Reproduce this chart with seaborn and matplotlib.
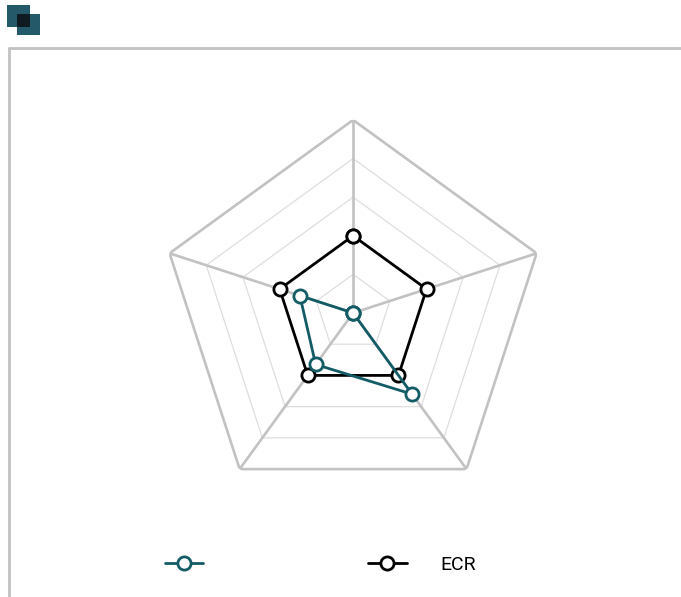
import numpy as np
import pandas as pd
import matplotlib
matplotlib.use("Agg")
import matplotlib.pyplot as plt
import seaborn as sns
from matplotlib.lines import Line2D
from matplotlib.patches import Rectangle

# radar data (5 axes, clockwise from top)
axes_names = ["A1", "A2", "A3", "A4", "A5"]
series_names = ["", "ECR"]
teal_values = [0.0, 0.0, 2.6, 1.65, 1.45]
ecr_values = [2.0, 2.0, 2.0, 2.0, 2.0]
levels = [1, 2, 3, 4, 5]

TEAL = "#135c66"
GRID_OUTER = "#c2c2c2"
GRID_INNER = "#dedede"

sns.set_theme(style="white")
plt.rcParams["font.family"] = ["Roboto", "DejaVu Sans"]

fig = plt.figure(figsize=(6.81, 5.97), dpi=100)
ax = fig.add_axes([0.235, 0.1525, 0.567, 0.6466], projection="polar")
ax.set_theta_zero_location("N")
ax.set_theta_direction(-1)
ax.set_ylim(0, levels[-1])
ax.grid(False)
ax.spines["polar"].set_visible(False)
ax.set_xticks([])
ax.set_yticks([])
ax.set_facecolor("none")

n = len(axes_names)
theta = np.linspace(0, 2 * np.pi, n, endpoint=False)
theta_closed = np.append(theta, 2 * np.pi)

# pentagon grid
for lv in levels:
    outer = lv == levels[-1]
    ax.plot(theta_closed, [lv] * (n + 1),
            color=GRID_OUTER if outer else GRID_INNER,
            lw=1.9 if outer else 0.9, zorder=1)
for t in theta:
    ax.plot([t, t], [0, levels[-1]], color=GRID_OUTER, lw=1.9, zorder=1)

# series
def closed_frame(values, name):
    return pd.DataFrame({"theta": theta_closed,
                         "value": list(values) + [values[0]],
                         "series": name})

MS = 9.5
LW = 2.0
for vals, name, col in [(ecr_values, "ECR", "black"), (teal_values, "", TEAL)]:
    df = closed_frame(vals, name)
    sns.lineplot(data=df, x="theta", y="value", sort=False, estimator=None,
                 ax=ax, color=col, lw=LW, marker="o", markersize=MS,
                 markerfacecolor="white", markeredgecolor=col,
                 markeredgewidth=LW, zorder=3, legend=False)
ax.set_xlabel("")
ax.set_ylabel("")
ax.set_ylim(0, levels[-1])

# legend
handles = [
    Line2D([], [], color=TEAL, lw=LW, marker="o", markersize=MS,
           markerfacecolor="white", markeredgecolor=TEAL, markeredgewidth=LW),
    Line2D([], [], color="black", lw=LW, marker="o", markersize=MS,
           markerfacecolor="white", markeredgecolor="black", markeredgewidth=LW),
]
fig.legend(handles, series_names, ncol=2, loc="center left",
           bbox_to_anchor=(0.2423, 0.054), frameon=False, fontsize=14,
           handlelength=1.96, handletextpad=1.75, columnspacing=6.75,
           borderpad=0, borderaxespad=0, labelcolor="black")

# frame lines
fig.add_artist(Line2D([9 / 681, 1], [1 - 48 / 597] * 2, color=GRID_OUTER, lw=2,
                      transform=fig.transFigure))
fig.add_artist(Line2D([9 / 681] * 2, [0, 1 - 48 / 597], color=GRID_OUTER, lw=2,
                      transform=fig.transFigure))

# small icon top-left
def px_rect(x0, y0, x1, y1, color):
    fig.add_artist(Rectangle((x0 / 681, 1 - y1 / 597), (x1 - x0) / 681,
                             (y1 - y0) / 597, color=color, lw=0,
                             transform=fig.transFigure))

px_rect(7, 5, 30, 27, "#24596a")
px_rect(17, 14, 40, 35, "#24596a")
px_rect(17, 14, 30, 27, "#0f1b20")

fig.savefig("out.png", dpi=100)
